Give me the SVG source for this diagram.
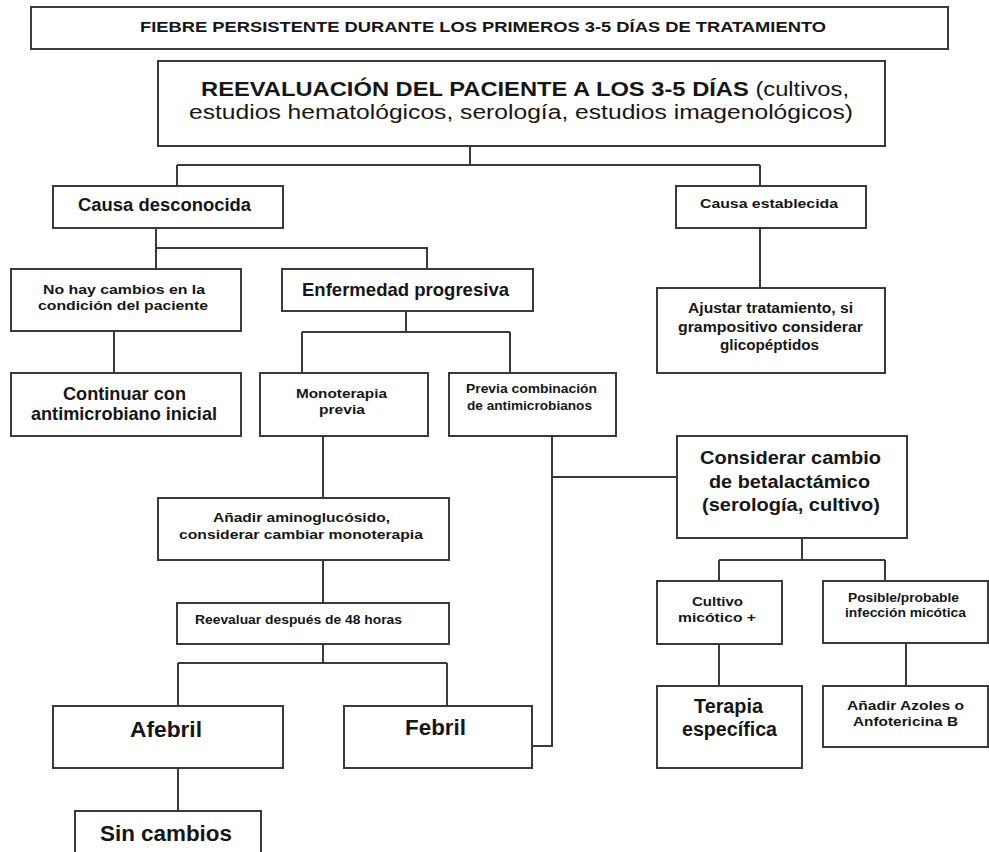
<svg xmlns="http://www.w3.org/2000/svg" width="989" height="852" viewBox="0 0 989 852">
<style>
  .box { fill: #ffffff; stroke: #3a3a3a; stroke-width: 2; }
  .conn { fill: none; stroke: #3a3a3a; stroke-width: 2; }
  text { font-family: "Liberation Sans", Arial, sans-serif; font-weight: bold; fill: #161616; text-anchor: middle; }
  .n { font-weight: normal; }
</style>
<rect width="989" height="852" fill="#ffffff"/>
<g id="connectors">
  <path class="conn" d="M470,146 V165 M177,165 H760 M177,165 V186 M760,165 V186"/>
  <path class="conn" d="M760,228 V288"/>
  <path class="conn" d="M156,228 V269 M156,248 H427 V269"/>
  <path class="conn" d="M114,331 V373"/>
  <path class="conn" d="M406,311 V332 M302,332 H510 M302,332 V373 M510,332 V373"/>
  <path class="conn" d="M323,436 V498"/>
  <path class="conn" d="M323,560 V603"/>
  <path class="conn" d="M323,644 V663 M178,663 H447 M178,663 V706 M447,663 V706"/>
  <path class="conn" d="M178,768 V811"/>
  <path class="conn" d="M552,436 V746 H532 M552,477 H677"/>
  <path class="conn" d="M802,538 V560 M719,560 H885 M719,560 V581 M885,560 V581"/>
  <path class="conn" d="M719,644 V686"/>
  <path class="conn" d="M906,643 V686"/>
</g>
<g id="n-fiebre">
  <rect class="box" x="31" y="7" width="917" height="42"/>
  <text x="483" y="31.5" font-size="15" textLength="686" lengthAdjust="spacingAndGlyphs">FIEBRE PERSISTENTE DURANTE LOS PRIMEROS 3-5 DÍAS DE TRATAMIENTO</text>
</g>
<g id="n-reevaluacion">
  <rect class="box" x="158" y="61" width="727" height="85"/>
  <text x="525" y="96" font-size="20" textLength="648" lengthAdjust="spacingAndGlyphs">REEVALUACIÓN DEL PACIENTE A LOS 3-5 DÍAS<tspan class="n"> (cultivos,</tspan></text>
  <text class="n" x="521" y="119" font-size="20" textLength="664" lengthAdjust="spacingAndGlyphs">estudios hematológicos, serología, estudios imagenológicos)</text>
</g>
<g id="n-causa-desconocida">
  <rect class="box" x="53" y="186" width="230" height="42"/>
  <text x="164.5" y="211" font-size="18" textLength="173" lengthAdjust="spacingAndGlyphs">Causa desconocida</text>
</g>
<g id="n-causa-establecida">
  <rect class="box" x="676" y="186" width="190" height="42"/>
  <text x="769" y="207.5" font-size="13" textLength="138" lengthAdjust="spacingAndGlyphs">Causa establecida</text>
</g>
<g id="n-no-hay-cambios">
  <rect class="box" x="11" y="269" width="230" height="62"/>
  <text x="124" y="293.5" font-size="13" textLength="162" lengthAdjust="spacingAndGlyphs">No hay cambios en la</text>
  <text x="123" y="309.5" font-size="13" textLength="170" lengthAdjust="spacingAndGlyphs">condición del paciente</text>
</g>
<g id="n-enfermedad">
  <rect class="box" x="282" y="269" width="251" height="42"/>
  <text x="405.5" y="296" font-size="19" textLength="207" lengthAdjust="spacingAndGlyphs">Enfermedad progresiva</text>
</g>
<g id="n-ajustar">
  <rect class="box" x="657" y="288" width="228" height="85"/>
  <text x="770.5" y="313" font-size="14" textLength="165" lengthAdjust="spacingAndGlyphs">Ajustar tratamiento, si</text>
  <text x="770.5" y="332" font-size="14" textLength="185" lengthAdjust="spacingAndGlyphs">grampositivo considerar</text>
  <text x="769.5" y="350" font-size="14" textLength="99" lengthAdjust="spacingAndGlyphs">glicopéptidos</text>
</g>
<g id="n-continuar">
  <rect class="box" x="11" y="373" width="230" height="63"/>
  <text x="124.5" y="400" font-size="19" textLength="123" lengthAdjust="spacingAndGlyphs">Continuar con</text>
  <text x="124" y="420" font-size="19" textLength="186" lengthAdjust="spacingAndGlyphs">antimicrobiano inicial</text>
</g>
<g id="n-monoterapia">
  <rect class="box" x="260" y="373" width="168" height="63"/>
  <text x="341.5" y="397.5" font-size="13" textLength="91" lengthAdjust="spacingAndGlyphs">Monoterapia</text>
  <text x="342" y="413.5" font-size="13" textLength="46" lengthAdjust="spacingAndGlyphs">previa</text>
</g>
<g id="n-previa-combinacion">
  <rect class="box" x="449" y="373" width="167" height="63"/>
  <text x="531.5" y="393" font-size="12" textLength="131" lengthAdjust="spacingAndGlyphs">Previa combinación</text>
  <text x="529.5" y="410" font-size="12" textLength="125" lengthAdjust="spacingAndGlyphs">de antimicrobianos</text>
</g>
<g id="n-anadir-aminoglucosido">
  <rect class="box" x="158" y="498" width="291" height="62"/>
  <text x="301.5" y="521.5" font-size="13" textLength="177" lengthAdjust="spacingAndGlyphs">Añadir aminoglucósido,</text>
  <text x="301" y="538.5" font-size="13" textLength="244" lengthAdjust="spacingAndGlyphs">considerar cambiar monoterapia</text>
</g>
<g id="n-reevaluar">
  <rect class="box" x="177" y="603" width="272" height="41"/>
  <text x="298.5" y="624" font-size="12" textLength="207" lengthAdjust="spacingAndGlyphs">Reevaluar después de 48 horas</text>
</g>
<g id="n-afebril">
  <rect class="box" x="53" y="706" width="230" height="62"/>
  <text x="166" y="737" font-size="22" textLength="72" lengthAdjust="spacingAndGlyphs">Afebril</text>
</g>
<g id="n-febril">
  <rect class="box" x="344" y="706" width="188" height="62"/>
  <text x="435.5" y="735" font-size="22" textLength="61" lengthAdjust="spacingAndGlyphs">Febril</text>
</g>
<g id="n-sin-cambios">
  <rect class="box" x="75" y="811" width="186" height="52"/>
  <text x="166" y="841" font-size="22" textLength="132" lengthAdjust="spacingAndGlyphs">Sin cambios</text>
</g>
<g id="n-considerar">
  <rect class="box" x="677" y="436" width="230" height="102"/>
  <text x="790.5" y="463.5" font-size="19" textLength="181" lengthAdjust="spacingAndGlyphs">Considerar cambio</text>
  <text x="789.5" y="487.5" font-size="19" textLength="161" lengthAdjust="spacingAndGlyphs">de betalactámico</text>
  <text x="791" y="510.5" font-size="19" textLength="178" lengthAdjust="spacingAndGlyphs">(serología, cultivo)</text>
</g>
<g id="n-cultivo">
  <rect class="box" x="657" y="581" width="125" height="63"/>
  <text x="717.5" y="605.5" font-size="13" textLength="51" lengthAdjust="spacingAndGlyphs">Cultivo</text>
  <text x="717" y="621.5" font-size="13" textLength="78" lengthAdjust="spacingAndGlyphs">micótico +</text>
</g>
<g id="n-posible">
  <rect class="box" x="823" y="581" width="165" height="62"/>
  <text x="903.5" y="602" font-size="12" textLength="111" lengthAdjust="spacingAndGlyphs">Posible/probable</text>
  <text x="905.5" y="617" font-size="12" textLength="121" lengthAdjust="spacingAndGlyphs">infección micótica</text>
</g>
<g id="n-terapia">
  <rect class="box" x="657" y="686" width="145" height="82"/>
  <text x="728.5" y="713" font-size="20" textLength="69" lengthAdjust="spacingAndGlyphs">Terapia</text>
  <text x="729.5" y="736" font-size="20" textLength="95" lengthAdjust="spacingAndGlyphs">específica</text>
</g>
<g id="n-anadir-azoles">
  <rect class="box" x="823" y="686" width="165" height="61"/>
  <text x="905.5" y="709.5" font-size="13" textLength="117" lengthAdjust="spacingAndGlyphs">Añadir Azoles o</text>
  <text x="905.5" y="725.5" font-size="13" textLength="105" lengthAdjust="spacingAndGlyphs">Anfotericina B</text>
</g>
</svg>
